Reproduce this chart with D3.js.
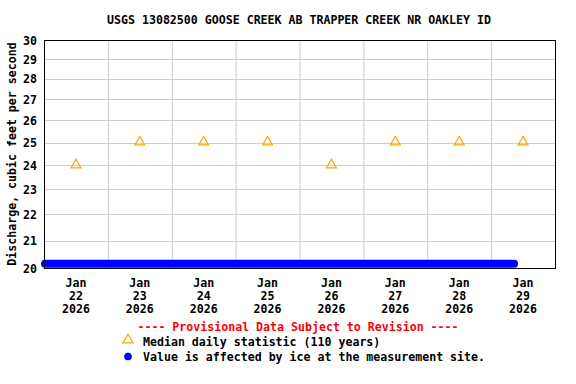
<!DOCTYPE html>
<html><head><meta charset="utf-8">
<script src="https://cdn.jsdelivr.net/npm/d3@7"></script>
<style>body{margin:0;background:#fff}svg{display:block}</style>
</head><body>
<script>
const title = "USGS 13082500 GOOSE CREEK AB TRAPPER CREEK NR OAKLEY ID";
const yLabel = "Discharge, cubic feet per second";
const yTicks = [20,21,22,23,24,25,26,27,28,29,30];
const medianDates = ["2026-01-22","2026-01-23","2026-01-24","2026-01-25","2026-01-26","2026-01-27","2026-01-28","2026-01-29"];
const medianValues = [24,25,25,25,24,25,25,25];
const iceTimes = ["2026-01-22T00:00","2026-01-23T00:00","2026-01-24T00:00","2026-01-25T00:00","2026-01-26T00:00","2026-01-27T00:00","2026-01-28T00:00","2026-01-29T00:00","2026-01-29T08:15"];
const iceValues = [20.15,20.15,20.15,20.15,20.15,20.15,20.15,20.15,20.15];
const tickMonths = ["Jan","Jan","Jan","Jan","Jan","Jan","Jan","Jan"];
const tickDays = ["22","23","24","25","26","27","28","29"];
const tickYears = ["2026","2026","2026","2026","2026","2026","2026","2026"];
const legendProvisional = "---- Provisional Data Subject to Revision ----";
const legendMedian = "Median daily statistic (110 years)";
const legendIce = "Value is affected by ice at the measurement site.";

const W=576,H=384;
const m={l:44,r:555,t:40,b:268};
const font="'DejaVu Sans Mono', 'Liberation Mono', monospace";
const svg=d3.select("body").append("svg").attr("width",W).attr("height",H);
const parse=d3.timeParse("%Y-%m-%dT%H:%M"), parseD=d3.timeParse("%Y-%m-%d");
const x=d3.scaleTime().domain([parseD("2026-01-22"),parseD("2026-01-30")]).range([m.l,m.r]);
const y=d3.scaleLog().domain([20,30]).range([m.b,m.t]);

// grid
const gridDays=d3.timeDay.range(parseD("2026-01-23"),parseD("2026-01-30"));
svg.append("g").selectAll("line").data(gridDays).join("line")
 .attr("x1",d=>x(d)+0.5).attr("x2",d=>x(d)+0.5).attr("y1",m.t).attr("y2",m.b)
 .attr("stroke","#cccccc").attr("stroke-width",1);
svg.append("g").selectAll("line").data(yTicks.slice(1,-1)).join("line")
 .attr("x1",m.l).attr("x2",m.r).attr("y1",d=>Math.round(y(d))+0.5).attr("y2",d=>Math.round(y(d))+0.5)
 .attr("stroke","#cccccc").attr("stroke-width",1);

// y tick labels
svg.append("g").selectAll("text").data(yTicks).join("text")
 .attr("x",37).attr("y",d=>y(d)+4.5).attr("text-anchor","end")
 .attr("font-family",font).attr("font-weight","bold").attr("font-size",11.6).text(d=>d);

// x tick labels
const noon=medianDates.map(d=>d3.timeHour.offset(parseD(d),12));
const xl=svg.append("g").selectAll("g").data(noon).join("g");
xl.append("text").attr("x",d=>x(d)).attr("y",287).attr("text-anchor","middle")
 .attr("font-family",font).attr("font-weight","bold").attr("font-size",11.6).text((d,i)=>tickMonths[i]);
xl.append("text").attr("x",d=>x(d)).attr("y",300).attr("text-anchor","middle")
 .attr("font-family",font).attr("font-weight","bold").attr("font-size",11.6).text((d,i)=>tickDays[i]);
xl.append("text").attr("x",d=>x(d)).attr("y",313).attr("text-anchor","middle")
 .attr("font-family",font).attr("font-weight","bold").attr("font-size",11.6).text((d,i)=>tickYears[i]);

// ice series
const ice=iceTimes.map((t,i)=>({t:parse(t),v:iceValues[i]}));
svg.append("path").datum(ice)
 .attr("d",d3.line().x(d=>x(d.t)+1).y(d=>y(d.v)))
 .attr("fill","none").attr("stroke","#0000ff").attr("stroke-width",8).attr("stroke-linecap","round");

// frame
svg.append("rect").attr("x",m.l+0.5).attr("y",m.t+0.5).attr("width",m.r-m.l).attr("height",m.b-m.t)
 .attr("fill","none").attr("stroke","#000").attr("stroke-width",1);

// median triangles
const tri=d3.symbol().type(d3.symbolTriangle).size(42);
svg.append("g").selectAll("path").data(medianValues).join("path")
 .attr("transform",(d,i)=>`translate(${x(noon[i])},${y(d)-0.5})`)
 .attr("d",tri).attr("fill","none").attr("stroke","#ffa500").attr("stroke-width",1.2);

// title
svg.append("text").attr("x",299).attr("y",24).attr("text-anchor","middle")
 .attr("font-family",font).attr("font-weight","bold").attr("font-size",11.6).text(title);

// y label
svg.append("text").attr("transform","translate(16,154) rotate(-90)").attr("text-anchor","middle")
 .attr("font-family",font).attr("font-weight","bold").attr("font-size",11.6).text(yLabel);

// legend
svg.append("text").attr("x",298).attr("y",331).attr("text-anchor","middle").attr("fill","#ff0000")
 .attr("font-family",font).attr("font-weight","bold").attr("font-size",11.6).text(legendProvisional);
svg.append("path").attr("transform","translate(128,340)").attr("d",tri)
 .attr("fill","none").attr("stroke","#ffa500").attr("stroke-width",1.2);
svg.append("text").attr("x",143).attr("y",345.5)
 .attr("font-family",font).attr("font-weight","bold").attr("font-size",11.6).text(legendMedian);
svg.append("circle").attr("cx",128).attr("cy",356.5).attr("r",3.8).attr("fill","#0000ff");
svg.append("text").attr("x",143).attr("y",361)
 .attr("font-family",font).attr("font-weight","bold").attr("font-size",11.6).text(legendIce);
</script>
</body></html>
